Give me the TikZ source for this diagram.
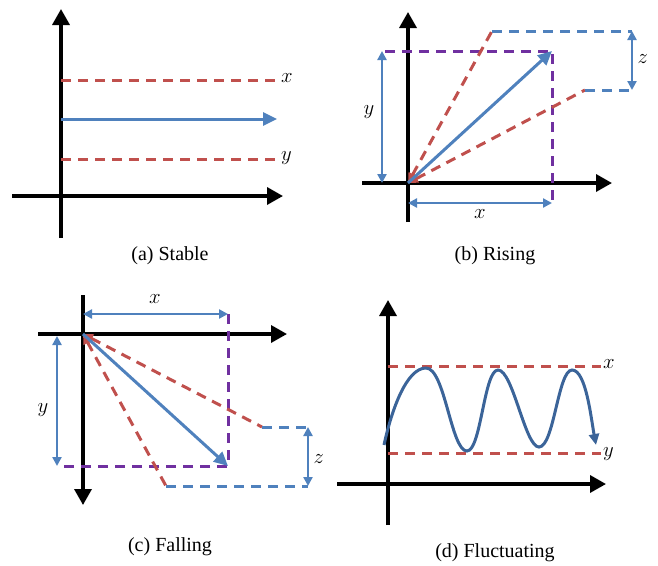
\documentclass[tikz,border=0pt]{standalone}
\usepackage{fontspec}
\setmainfont{Liberation Serif}
\usepackage{tikz}
\usetikzlibrary{
  arrows.meta,
  calc
}
\definecolor{axisink}{HTML}{000000}
\definecolor{trendblue}{HTML}{4F81BD}
\definecolor{boundred}{HTML}{C0504D}
\definecolor{spanpurple}{HTML}{7030A0}
\definecolor{waveblue}{HTML}{3B6499}
\tikzset{
  every node/.style={font=\fontsize{21}{23}\selectfont, text=axisink},
  axis/.style={-{Triangle[length=16pt,width=17pt]}, line width=3.4pt, draw=axisink},
  trend/.style={-{Triangle[length=14pt,width=13pt]}, line width=3pt, draw=trendblue},
  span/.style={{Triangle[length=9pt,width=9pt]}-{Triangle[length=9pt,width=9pt]},
    line width=2.8pt, draw=trendblue},
  bound/.style={dash pattern=on 10pt off 7pt, line width=3pt, draw=boundred},
  boundtip/.style={bound, {Triangle[length=10pt,width=9pt]}-},
  bandline/.style={dash pattern=on 10pt off 7pt, line width=3pt, draw=trendblue},
  frame/.style={dash pattern=on 10pt off 7pt, line width=3pt, draw=spanpurple},
  wave/.style={-{Triangle[length=11pt,width=10pt]}, line width=3pt, draw=waveblue},
  caption/.style={anchor=center, font=\fontsize{20}{22}\selectfont}
}

\begin{document}
\begin{tikzpicture}[x=1pt, y=-1pt]
  \useasboundingbox (0,0) rectangle (658,565);

  % =====================================================================
  % (a) Stable
  % =====================================================================
  \coordinate (Ay0) at (61,238);
  \coordinate (Ay1) at (61,9);
  \coordinate (Ax0) at (12,196);
  \coordinate (Ax1) at (283,196);
  \draw[axis] (Ay0) -- (Ay1);
  \draw[axis] (Ax0) -- (Ax1);

  \coordinate (Aup) at (61,80);
  \coordinate (Alo) at (61,159);
  \node[anchor=west, inner sep=2pt] (Alabx) at (279,78) {$x$};
  \node[anchor=west, inner sep=2pt] (Alaby) at (279,158) {$y$};
  \draw[bound] (Aup) -- (Alabx.west |- Aup);
  \draw[bound] (Alo) -- (Alaby.west |- Alo);

  \coordinate (At0) at (61,119);
  \coordinate (At1) at (277,119);
  \draw[trend] (At0) -- (At1);

  \node[caption] (Acap) at (170,256) {(a) Stable};

  % =====================================================================
  % (b) Rising
  % =====================================================================
  \coordinate (Bo) at (408,183);
  \coordinate (By0) at (408,222);
  \coordinate (By1) at (408,12);
  \coordinate (Bx0) at (362,183);
  \coordinate (Bx1) at (612,183);
  \draw[axis] (By0) -- (By1);
  \draw[axis] (Bx0) -- (Bx1);

  % target frame
  \coordinate (Bc) at (552,51);
  \draw[frame] (385,51) -- (Bc) -- (552,201);

  % band
  \coordinate (Bhi) at (492,31);
  \coordinate (Blo) at (585,90);
  \coordinate (Bzhi) at (632,31);
  \coordinate (Bzlo) at (632,90);
  \draw[boundtip] (Bo) -- (Bhi);
  \draw[boundtip] (Bo) -- (Blo);
  \draw[bandline] (Bhi) -- (Bzhi);
  \draw[bandline] (Blo) -- (Bzlo);
  \draw[span] (Bzhi) -- (Bzlo);
  \node[anchor=west] (Blabz) at (634,59) {$z$};

  \draw[trend] (Bo) -- (Bc);

  % extents
  \coordinate (Byt) at (382,51);
  \coordinate (Byb) at (382,183);
  \draw[span] (Byt) -- (Byb);
  \node (Blaby) at (369,112) {$y$};
  \coordinate (Bxl) at (408,203);
  \coordinate (Bxr) at (552,203);
  \draw[span] (Bxl) -- (Bxr);
  \node (Blabx) at (480,214) {$x$};

  \node[caption] (Bcap) at (495,256) {(b) Rising};

  % =====================================================================
  % (c) Falling
  % =====================================================================
  \coordinate (Co) at (83,334);
  \coordinate (Cy0) at (83,295);
  \coordinate (Cy1) at (83,505);
  \coordinate (Cx0) at (38,334);
  \coordinate (Cx1) at (287,334);
  \draw[axis] (Cy0) -- (Cy1);
  \draw[axis] (Cx0) -- (Cx1);

  % target frame
  \coordinate (Cc) at (228,466);
  \draw[frame] (228,314) -- (Cc) -- (59,466);

  % band
  \coordinate (Chi) at (262,427);
  \coordinate (Clo) at (166,486);
  \coordinate (Czhi) at (308,427);
  \coordinate (Czlo) at (308,486);
  \draw[boundtip] (Co) -- (Chi);
  \draw[boundtip] (Co) -- (Clo);
  \draw[bandline] (Chi) -- (Czhi);
  \draw[bandline] (Clo) -- (Czlo);
  \draw[span] (Czhi) -- (Czlo);
  \node[anchor=west] (Clabz) at (310,459) {$z$};

  \draw[trend] (Co) -- (Cc);

  % extents
  \coordinate (Cxl) at (83,314);
  \coordinate (Cxr) at (228,314);
  \draw[span] (Cxl) -- (Cxr);
  \node (Clabx) at (155,299) {$x$};
  \coordinate (Cyt) at (57,336);
  \coordinate (Cyb) at (57,466);
  \draw[span] (Cyt) -- (Cyb);
  \node (Claby) at (43,410) {$y$};

  \node[caption] (Ccap) at (170,547) {(c) Falling};

  % =====================================================================
  % (d) Fluctuating
  % =====================================================================
  \coordinate (Dy0) at (388,525);
  \coordinate (Dy1) at (388,300);
  \coordinate (Dx0) at (337,484);
  \coordinate (Dx1) at (606,484);
  \draw[axis] (Dy0) -- (Dy1);
  \draw[axis] (Dx0) -- (Dx1);

  \coordinate (Dup) at (388,366);
  \coordinate (Dlo) at (388,453);
  \node[anchor=west, inner sep=2pt] (Dlabx) at (601,364) {$x$};
  \node[anchor=west, inner sep=2pt] (Dlaby) at (601,454) {$y$};
  \draw[bound] (Dup) -- (Dlabx.west |- Dup);
  \draw[bound] (Dlo) -- (Dlaby.west |- Dlo);

  \coordinate (Dw0) at (384,445);
  \coordinate (Dw1) at (426,368);
  \coordinate (Dw2) at (467,451);
  \coordinate (Dw3) at (498,370);
  \coordinate (Dw4) at (539,447);
  \coordinate (Dw5) at (572,370);
  \coordinate (Dw6) at (596,445);
  \draw[wave] (Dw0)
      .. controls (392,408) and (407,368) .. (Dw1)
      .. controls (445,368) and (451,451) .. (Dw2)
      .. controls (481,451) and (484,370) .. (Dw3)
      .. controls (513,370) and (525,447) .. (Dw4)
      .. controls (554,447) and (558,370) .. (Dw5)
      .. controls (586,370) and (591,418) .. (Dw6);

  \node[caption] (Dcap) at (495,553) {(d) Fluctuating};

\end{tikzpicture}
\end{document}
